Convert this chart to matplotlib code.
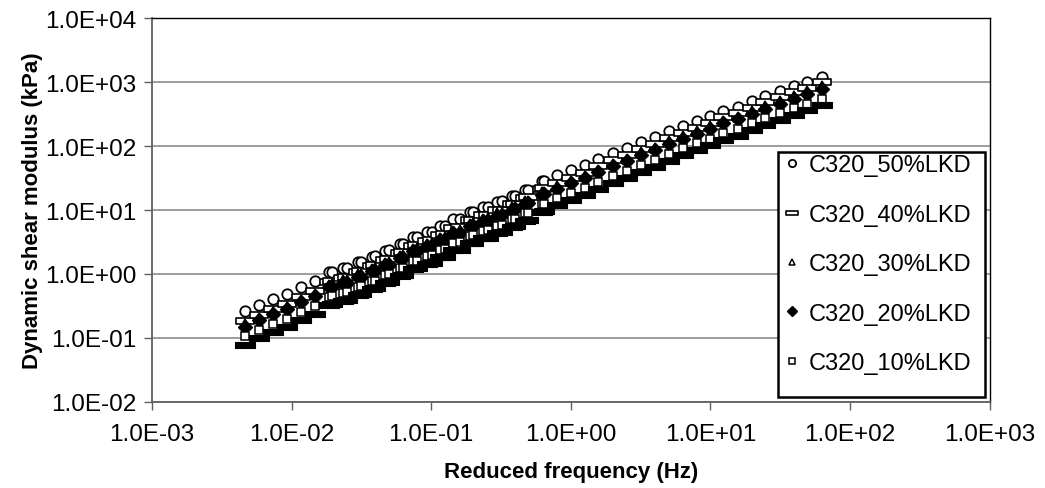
import matplotlib
matplotlib.use("Agg")
import matplotlib.pyplot as plt
from matplotlib.path import Path
from matplotlib.patches import Rectangle
from matplotlib.ticker import FixedLocator, FuncFormatter, NullLocator

plt.rcParams['font.family'] = ['Liberation Sans', 'DejaVu Sans']

# reduced frequency (Hz), shared by all mixes
freq = [0.00464, 0.00584, 0.00738, 0.00931, 0.0117, 0.0147,
        0.0185, 0.0196, 0.0233, 0.0248, 0.0299, 0.0313, 0.0376, 0.0394,
        0.0466, 0.0497, 0.0596, 0.0626, 0.0738, 0.0788, 0.0929, 0.101,
        0.115, 0.125, 0.143, 0.160, 0.189, 0.198, 0.234, 0.254, 0.295,
        0.320, 0.378, 0.397, 0.468, 0.491, 0.619, 0.640,
        0.792, 1.00, 1.26, 1.56, 2.00, 2.51, 3.16, 3.99, 5.02, 6.32,
        7.96, 9.86, 12.4, 15.7, 19.7, 24.8, 31.3, 39.4, 48.9, 62.5]

# dynamic shear modulus (kPa)
g_50 = [0.261, 0.328, 0.406, 0.486, 0.619, 0.769,
        1.06, 1.08, 1.23, 1.25, 1.52, 1.55, 1.86, 1.89, 2.31, 2.36, 2.94, 2.99,
        3.78, 3.85, 4.53, 4.61, 5.62, 5.71, 7.23, 7.35, 9.31, 9.46, 11.1, 11.3,
        13.3, 13.6, 16.6, 16.8, 20.6, 20.9, 28.4, 28.8,
        35.2, 42.2, 50.5, 62.7, 77.8, 93.1, 116, 138, 171, 206,
        246, 291, 356, 411, 499, 598, 716, 857, 1010, 1210]
g_40 = [0.181, 0.228, 0.283, 0.341, 0.436, 0.544,
        0.753, 0.767, 0.876, 0.891, 1.09, 1.11, 1.34, 1.36, 1.67, 1.70, 2.13, 2.17,
        2.75, 2.80, 3.31, 3.37, 4.12, 4.19, 5.32, 5.42, 6.88, 7.00, 8.24, 8.40,
        9.91, 10.1, 12.4, 12.6, 15.5, 15.7, 21.4, 21.7,
        26.6, 32.1, 38.5, 48.0, 59.8, 71.9, 89.9, 107, 134, 162,
        194, 230, 282, 327, 398, 479, 576, 692, 818, 984]
g_30 = [0.165, 0.208, 0.258, 0.310, 0.395, 0.492,
        0.681, 0.694, 0.792, 0.805, 0.982, 1.00, 1.21, 1.22, 1.50, 1.53, 1.92, 1.95,
        2.47, 2.52, 2.97, 3.02, 3.69, 3.76, 4.76, 4.85, 6.15, 6.25, 7.36, 7.49,
        8.84, 9.04, 11.1, 11.2, 13.8, 14.0, 19.1, 19.3,
        23.7, 28.4, 34.1, 42.5, 52.9, 63.5, 79.3, 94.7, 118, 142,
        170, 202, 247, 286, 349, 419, 503, 603, 713, 857]
g_20 = [0.150, 0.189, 0.235, 0.282, 0.360, 0.449,
        0.620, 0.633, 0.722, 0.734, 0.895, 0.913, 1.10, 1.12, 1.37, 1.40, 1.75, 1.78,
        2.25, 2.29, 2.70, 2.76, 3.37, 3.43, 4.35, 4.42, 5.61, 5.70, 6.70, 6.84,
        8.06, 8.26, 10.1, 10.2, 12.5, 12.7, 17.4, 17.6,
        21.6, 26.0, 31.2, 38.7, 48.2, 57.9, 72.4, 86.3, 107, 130,
        155, 184, 226, 261, 318, 382, 459, 551, 650, 782]
g_10 = [0.106, 0.134, 0.166, 0.200, 0.255, 0.318,
        0.439, 0.448, 0.510, 0.520, 0.634, 0.646, 0.777, 0.790, 0.968, 0.989, 1.23, 1.26,
        1.59, 1.62, 1.92, 1.95, 2.38, 2.42, 3.07, 3.13, 3.97, 4.04, 4.75, 4.84,
        5.71, 5.83, 7.14, 7.23, 8.88, 9.01, 12.3, 12.5,
        15.3, 18.4, 22.0, 27.5, 34.2, 41.0, 51.2, 61.1, 75.9, 91.7,
        110, 130, 160, 185, 225, 270, 324, 390, 461, 553]
# unlabelled sixth series (black dash markers)
g_extra = [0.0788, 0.0994, 0.124, 0.149, 0.191, 0.238,
           0.330, 0.336, 0.384, 0.391, 0.477, 0.487, 0.586, 0.597, 0.732, 0.748, 0.935, 0.954,
           1.21, 1.23, 1.45, 1.48, 1.82, 1.84, 2.34, 2.39, 3.04, 3.08, 3.63, 3.71,
           4.38, 4.47, 5.48, 5.54, 6.84, 6.94, 9.46, 9.62,
           11.8, 14.2, 17.1, 21.3, 26.5, 31.8, 39.9, 47.6, 59.3, 71.7,
           86.1, 102, 126, 145, 178, 213, 257, 309, 365, 439]

labels = ['C320_50%LKD', 'C320_40%LKD', 'C320_30%LKD', 'C320_20%LKD', 'C320_10%LKD']

dash = Path([(-1, -0.3), (1, -0.3), (1, 0.3), (-1, 0.3), (-1, -0.3)],
            [Path.MOVETO, Path.LINETO, Path.LINETO, Path.LINETO, Path.CLOSEPOLY])
bar = Path([(-1, -0.36), (1, -0.36), (1, 0.36), (-1, 0.36), (-1, -0.36)],
           [Path.MOVETO, Path.LINETO, Path.LINETO, Path.LINETO, Path.CLOSEPOLY])

fig = plt.figure(figsize=(10.45, 4.89), dpi=100)
ax = fig.add_axes([0.1455, 0.176, 0.8015, 0.785])

ax.plot(freq, g_50, ls='none', marker='o', ms=7.5, mfc='white', mec='black', mew=1.3, label=labels[0])
ax.plot(freq, g_40, ls='none', marker=dash, ms=13, mfc='white', mec='black', mew=1.2, label=labels[1])
ax.plot(freq, g_30, ls='none', marker='^', ms=7, mfc='white', mec='black', mew=1.1, label=labels[2])
ax.plot(freq, g_20, ls='none', marker='D', ms=7.5, mfc='black', mec='black', mew=1.0, label=labels[3])
ax.plot(freq, g_10, ls='none', marker='s', ms=6, mfc='white', mec='black', mew=1.1, label=labels[4])
ax.plot(freq, g_extra, ls='none', marker=bar, ms=14, mfc='black', mec='black', mew=0.8)

ax.set_xscale('log')
ax.set_yscale('log')
ax.set_xlim(1e-3, 1e3)
ax.set_ylim(1e-2, 1e4)

fmt = FuncFormatter(lambda v, p: f"{v:.1E}")
ax.xaxis.set_major_locator(FixedLocator([10.0 ** k for k in range(-3, 4)]))
ax.yaxis.set_major_locator(FixedLocator([10.0 ** k for k in range(-2, 5)]))
ax.xaxis.set_major_formatter(fmt)
ax.yaxis.set_major_formatter(fmt)
ax.xaxis.set_minor_locator(NullLocator())
ax.yaxis.set_minor_locator(NullLocator())

ax.tick_params(axis='both', which='major', direction='out', length=6, width=1,
               color='#606060', labelsize=17.5, pad=5)
ax.tick_params(axis='x', pad=9)
ax.yaxis.grid(True, color='#8c8c8c', lw=1.2)
ax.set_axisbelow(True)
for side in ['left', 'bottom']:
    ax.spines[side].set_color('#606060')
    ax.spines[side].set_linewidth(1.3)
for side in ['top', 'right']:
    ax.spines[side].set_color('black')
    ax.spines[side].set_linewidth(1.0)

ax.set_xlabel('Reduced frequency (Hz)', fontsize=16, fontweight='bold', labelpad=12)
ax.set_ylabel('Dynamic shear modulus (kPa)', fontsize=16, fontweight='bold', labelpad=2)

# legend box (Excel style, with empty room at the bottom)
box = Rectangle((0.747, 0.013), 0.247, 0.638, transform=ax.transAxes,
                facecolor='white', edgecolor='black', lw=1.8, zorder=4)
ax.add_patch(box)
leg = ax.legend(loc='upper left', bbox_to_anchor=(0.747, 0.651),
                fontsize=17, frameon=False, markerscale=0.7,
                handlelength=1.0, handletextpad=0.2, labelspacing=1.16,
                borderpad=0.1, borderaxespad=0)
leg.set_zorder(5)

fig.savefig('out.png', dpi=100)
